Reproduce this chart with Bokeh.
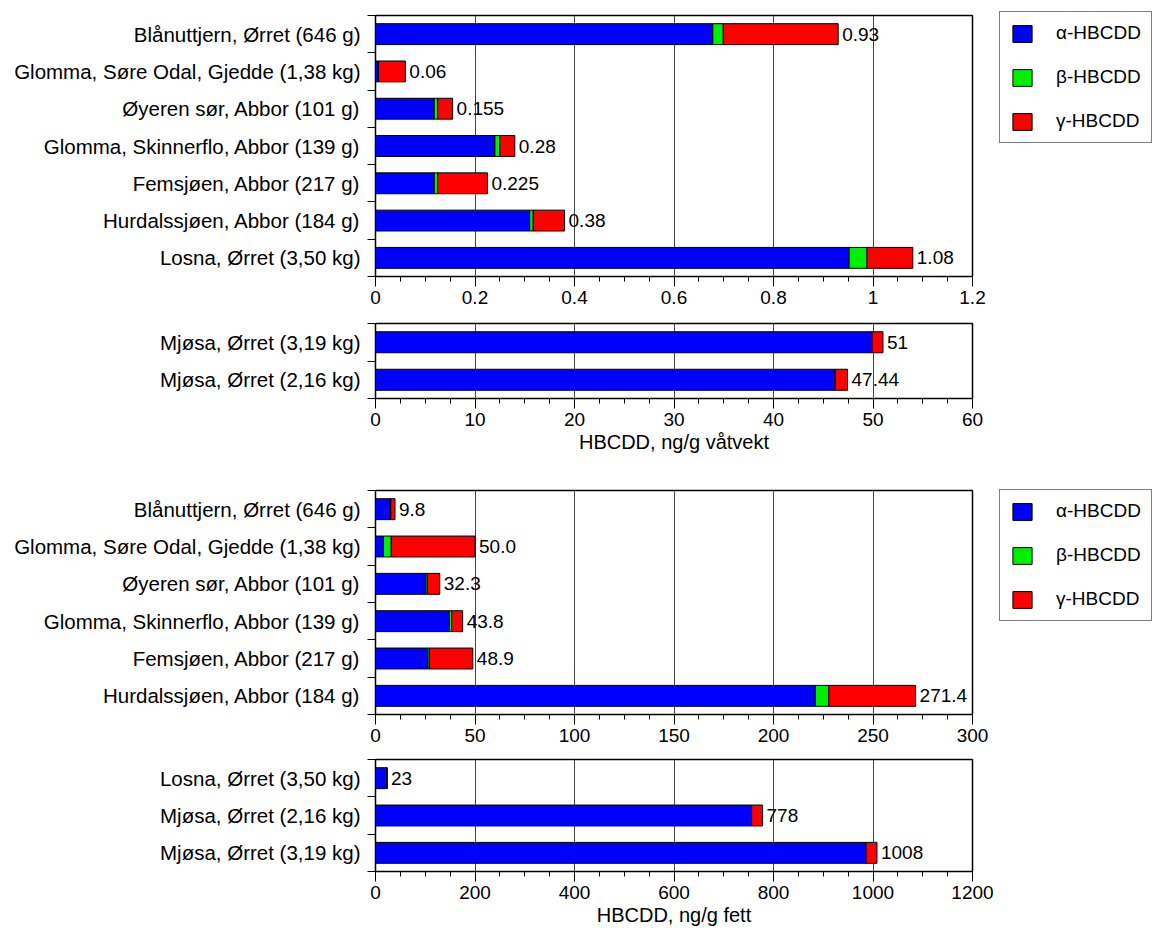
import numpy as np
from bokeh.plotting import figure
from bokeh.models import (ColumnDataSource, Range1d, FixedTicker, Legend, LegendItem,
                          CustomJSTickFormatter)
from bokeh.layouts import column
from bokeh.embed import file_html
from bokeh.resources import INLINE
from bokeh.core.properties import value

# ---------------- data ----------------
# Panel 1: ng/g wet weight (small values)
cats1 = ["Blånuttjern, Ørret (646 g)", "Glomma, Søre Odal, Gjedde (1,38 kg)",
         "Øyeren sør, Abbor (101 g)", "Glomma, Skinnerflo, Abbor (139 g)",
         "Femsjøen, Abbor (217 g)", "Hurdalssjøen, Abbor (184 g)", "Losna, Ørret (3,50 kg)"]
alpha1 = [0.678, 0.004, 0.118, 0.240, 0.118, 0.310, 0.952]
beta1 = [0.021, 0.002, 0.007, 0.010, 0.007, 0.007, 0.036]
gamma1 = [0.231, 0.054, 0.030, 0.030, 0.100, 0.063, 0.092]
labels1 = ["0.93", "0.06", "0.155", "0.28", "0.225", "0.38", "1.08"]
ticks1 = [0, 0.2, 0.4, 0.6, 0.8, 1.0, 1.2]

# Panel 2: ng/g wet weight (Mjøsa)
cats2 = ["Mjøsa, Ørret (3,19 kg)", "Mjøsa, Ørret (2,16 kg)"]
alpha2 = [49.9, 46.2]
beta2 = [0.0, 0.0]
gamma2 = [1.1, 1.24]
labels2 = ["51", "47.44"]
ticks2 = [0, 10, 20, 30, 40, 50, 60]

# Panel 3: ng/g lipid
cats3 = ["Blånuttjern, Ørret (646 g)", "Glomma, Søre Odal, Gjedde (1,38 kg)",
         "Øyeren sør, Abbor (101 g)", "Glomma, Skinnerflo, Abbor (139 g)",
         "Femsjøen, Abbor (217 g)", "Hurdalssjøen, Abbor (184 g)"]
alpha3 = [7.4, 4.0, 25.2, 37.1, 26.2, 221.0]
beta3 = [0.3, 3.9, 0.8, 1.2, 0.8, 6.8]
gamma3 = [2.1, 42.1, 6.3, 5.5, 21.9, 43.6]
labels3 = ["9.8", "50.0", "32.3", "43.8", "48.9", "271.4"]
ticks3 = [0, 50, 100, 150, 200, 250, 300]

# Panel 4: ng/g lipid (large values)
cats4 = ["Losna, Ørret (3,50 kg)", "Mjøsa, Ørret (2,16 kg)", "Mjøsa, Ørret (3,19 kg)"]
alpha4 = [23.0, 756.0, 986.0]
beta4 = [0.0, 0.0, 0.0]
gamma4 = [0.0, 22.0, 22.0]
labels4 = ["23", "778", "1008"]
ticks4 = [0, 200, 400, 600, 800, 1000, 1200]

series_names = ["α-HBCDD", "β-HBCDD", "γ-HBCDD"]
colors = ["#0000ff", "#00ee00", "#ff0000"]

FONT = "Liberation Sans"
ROW = 37.3


def make_panel(cats, a, b, g, labels, ticks, top, bottom, xlabel=None):
    n = len(cats)
    ys = list(range(n))
    a = np.array(a, float); b = np.array(b, float); g = np.array(g, float)
    src = ColumnDataSource(dict(
        y=ys, a0=np.zeros(n), a1=a, b1=a + b, g1=a + b + g, label=labels))
    p = figure(frame_width=597, frame_height=int(round(n * ROW)),
               min_border_left=375, min_border_right=185,
               min_border_top=top, min_border_bottom=bottom,
               x_range=Range1d(ticks[0], ticks[-1]), y_range=Range1d(n - 0.5, -0.5),
               output_backend="svg", toolbar_location=None,
               background_fill_color="white", border_fill_color="white")
    p.outline_line_color = "black"
    p.outline_line_width = 1.5
    p.outline_line_alpha = 1.0

    r_a = p.hbar(y="y", left="a0", right="a1", height=0.56, fill_color=colors[0],
                 line_color="black", line_width=1, source=src)
    r_b = p.hbar(y="y", left="a1", right="b1", height=0.56, fill_color=colors[1],
                 line_color="black", line_width=1, source=src)
    r_g = p.hbar(y="y", left="b1", right="g1", height=0.56, fill_color=colors[2],
                 line_color="black", line_width=1, source=src)
    p.text(x="g1", y="y", text="label", source=src, x_offset=4,
           text_baseline="middle", text_align="left",
           text_font=value(FONT), text_font_size="19px", text_color="black")

    minor = np.linspace(ticks[0], ticks[-1], (len(ticks) - 1) * 4 + 1).tolist()
    xt = FixedTicker(ticks=ticks, minor_ticks=minor)
    ax = p.xaxis[0]
    ax.ticker = xt
    ax.formatter = CustomJSTickFormatter(code="return String(Number(tick.toFixed(6)));")
    ax.major_tick_out = 10
    ax.major_tick_in = 0
    ax.minor_tick_out = 5
    ax.minor_tick_in = 0
    ax.major_tick_line_color = "black"
    ax.minor_tick_line_color = "black"
    ax.axis_line_color = "black"
    ax.major_label_text_font = FONT
    ax.major_label_text_font_size = "19px"
    ax.major_label_text_color = "black"
    ax.major_label_standoff = 4
    if xlabel:
        ax.axis_label = xlabel
        ax.axis_label_text_font = FONT
        ax.axis_label_text_font_size = "20px"
        ax.axis_label_text_font_style = "normal"
        ax.axis_label_text_color = "black"
        ax.axis_label_standoff = 2

    yb = [i - 0.5 for i in range(n + 1)]
    yax = p.yaxis[0]
    yax.ticker = FixedTicker(ticks=ys, minor_ticks=yb)
    yax.major_label_overrides = {i: c for i, c in enumerate(cats)}
    yax.major_tick_line_color = None
    yax.major_tick_out = 0
    yax.major_tick_in = 0
    yax.minor_tick_out = 8
    yax.minor_tick_in = 0
    yax.minor_tick_line_color = "black"
    yax.axis_line_color = "black"
    yax.major_label_text_font = FONT
    yax.major_label_text_font_size = "20.5px"
    yax.major_label_text_color = "black"
    yax.major_label_standoff = 7

    p.xgrid.ticker = xt
    p.xgrid.grid_line_color = "#444444"
    p.xgrid.grid_line_width = 1
    p.ygrid.visible = False
    return p, (r_a, r_b, r_g)


def add_legend(p, rends, loc):
    items = [LegendItem(label=nm, renderers=[r]) for nm, r in zip(series_names, rends)]
    lg = Legend(items=items, location=loc, orientation="vertical",
                label_text_font=FONT, label_text_font_size="19px", label_text_color="black",
                glyph_width=24, glyph_height=21, label_standoff=22, spacing=22,
                padding=10, margin=0, border_line_color="black", border_line_width=1.5,
                background_fill_color="white", background_fill_alpha=1.0)
    p.add_layout(lg, "right")


p1, r1 = make_panel(cats1, alpha1, beta1, gamma1, labels1, ticks1, top=15, bottom=40)
p2, _ = make_panel(cats2, alpha2, beta2, gamma2, labels2, ticks2, top=7, bottom=60,
                   xlabel="HBCDD, ng/g våtvekt")
p3, r3 = make_panel(cats3, alpha3, beta3, gamma3, labels3, ticks3, top=32, bottom=40)
p4, _ = make_panel(cats4, alpha4, beta4, gamma4, labels4, ticks4, top=5, bottom=52,
                   xlabel="HBCDD, ng/g fett")

add_legend(p1, r1, (27, 133))
add_legend(p3, r3, (27, 93))

layout = column(p1, p2, p3, p4, spacing=0)
open("out.html", "w").write(file_html(layout, INLINE))
